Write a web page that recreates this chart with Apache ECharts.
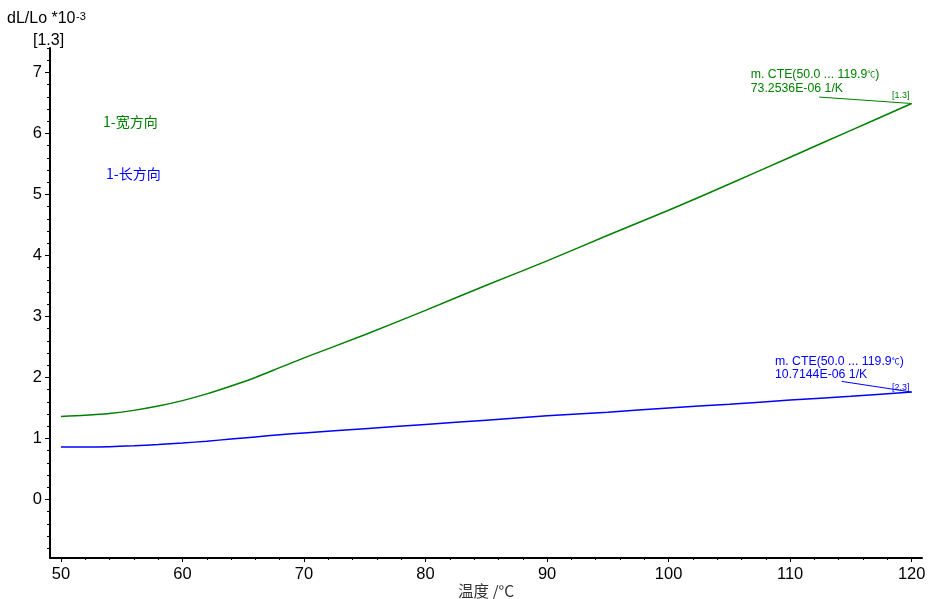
<!DOCTYPE html>
<html><head><meta charset="utf-8">
<script src="https://cdn.jsdelivr.net/npm/echarts@6/dist/echarts.min.js"></script>
<style>html,body{margin:0;padding:0;background:#fff}#c{width:932px;height:599px}</style>
</head><body><div id="c"></div>
<script>
// ---- data ----
const temps    = [50, 52, 54, 56, 58, 60, 62, 64, 66, 68, 70, 75, 80, 85, 90, 95, 100, 105, 110, 115, 120];
const wideDir  = [1.36, 1.38, 1.41, 1.46, 1.53, 1.62, 1.73, 1.86, 2.00, 2.16, 2.32, 2.70, 3.10, 3.51, 3.91, 4.33, 4.74, 5.17, 5.61, 6.05, 6.49];
const longDir  = [0.86, 0.86, 0.865, 0.88, 0.90, 0.925, 0.955, 0.99, 1.025, 1.06, 1.09, 1.16, 1.23, 1.30, 1.37, 1.43, 1.50, 1.56, 1.63, 1.69, 1.76];
const seriesNames = ['1-宽方向', '1-长方向'];
const xTickLabels = [50, 60, 70, 80, 90, 100, 110, 120];
const yTickLabels = [0, 1, 2, 3, 4, 5, 6, 7];
const cteTitle = ['m. CTE(50.0 ... 119.9', 'm. CTE(50.0 ... 119.9'];
const cteValue = ['73.2536E-06 1/K', '10.7144E-06 1/K'];
const cteTag = ['[1.3]', '[2.3]'];
const cteAnchor = [[112.39, 6.596], [114.24, 1.935]];
const yTitle = 'dL/Lo *10';
const yTitleExp = '-3';
const yTitleTag = '[1.3]';
const xTitle = '温度 /°C';

// ---- layout ----
const W = 932, H = 599;
const XMIN = 49.1, XMAX = 120.85, YMIN = -0.96, YMAX = 7.4;
const GL = 50, GT = 48, GR = 10, GB = 41;
const gw = W - GL - GR, gh = H - GT - GB;
const px = v => GL + (v - XMIN) / (XMAX - XMIN) * gw;
const py = v => GT + (YMAX - v) / (YMAX - YMIN) * gh;
const GREEN = '#008000', BLUE = '#0000ff';
const FONT = "'Liberation Sans', Arial, 'Noto Sans CJK SC', sans-serif";
const CJK = "'Noto Sans CJK SC', 'Liberation Sans', sans-serif";

const chart = echarts.init(document.getElementById('c'), null, {renderer: 'canvas'});

function mkSeries(name, vals, color, idx) {
  const n = temps.length - 1;
  return {
    name, type: 'line', xAxisIndex: 0, yAxisIndex: 0,
    data: temps.map((t, i) => [t, vals[i]]),
    showSymbol: false, smooth: 0.3,
    lineStyle: {color, width: 1.5}, itemStyle: {color},
    markLine: {
      silent: true, symbol: ['none', 'none'], animation: false,
      label: {show: false},
      lineStyle: {color, width: 1, type: 'solid'},
      data: [[{coord: cteAnchor[idx]}, {coord: [temps[n], vals[n]]}]]
    }
  };
}

function annot(x, y, title, value, color) {
  return [
    {type: 'text', left: x, top: y, style: {
      text: '{a|' + title + '}{s|℃}{a|)}', fill: color,
      rich: {a: {fontSize: 12.3, fontFamily: FONT, fill: color}, s: {fontSize: 8, fontFamily: FONT, fill: color}}
    }},
    {type: 'text', left: x, top: y + 13.5, style: {text: value, fill: color, font: '12.3px ' + FONT}},
  ];
}

const gridBase = {outerBoundsMode: 'none', containLabel: false};

const option = {
  animation: false,
  backgroundColor: '#fff',
  grid: [
    Object.assign({left: GL, top: GT, right: GR, bottom: GB}, gridBase),
    Object.assign({left: px(50), right: W - px(120), top: py(7), bottom: H - py(0)}, gridBase),
    Object.assign({left: GL, right: GR, top: py(7.4), bottom: H - py(-0.8)}, gridBase)
  ],
  xAxis: [
    {gridIndex: 0, type: 'value', min: XMIN, max: XMAX,
      axisLine: {show: true, onZero: false, lineStyle: {color: '#000', width: 2}},
      axisTick: {show: false}, axisLabel: {show: false}, splitLine: {show: false},
      name: xTitle, nameLocation: 'middle', nameGap: 25,
      nameTextStyle: {fontSize: 15.5, color: '#333', fontFamily: CJK}},
    {gridIndex: 1, type: 'value', min: xTickLabels[0], max: xTickLabels[xTickLabels.length - 1], interval: 10,
      offset: (H - GB) - py(0),
      axisLine: {show: false, onZero: false},
      axisTick: {show: true, length: 4, lineStyle: {color: '#000', width: 1}},
      minorTick: {show: true, splitNumber: 5, length: 2, lineStyle: {color: '#000', width: 1}},
      axisLabel: {show: true, fontSize: 16.5, color: '#000', fontFamily: FONT, margin: 8},
      splitLine: {show: false}},
    {gridIndex: 2, type: 'value', min: 0, max: 1, show: false, axisLine: {onZero: false}}
  ],
  yAxis: [
    {gridIndex: 0, type: 'value', min: YMIN, max: YMAX,
      axisLine: {show: true, onZero: false, lineStyle: {color: '#000', width: 2}},
      axisTick: {show: false}, axisLabel: {show: false}, splitLine: {show: false}},
    {gridIndex: 1, type: 'value', min: yTickLabels[0], max: yTickLabels[yTickLabels.length - 1], interval: 1,
      offset: px(50) - GL,
      axisLine: {show: false, onZero: false},
      axisTick: {show: true, length: 5, lineStyle: {color: '#000', width: 1}},
      axisLabel: {show: true, fontSize: 16.5, color: '#000', fontFamily: FONT, margin: 8},
      splitLine: {show: false}},
    {gridIndex: 2, type: 'value', min: -0.8, max: 7.4, interval: 0.2,
      axisLine: {show: false, onZero: false},
      axisTick: {show: true, length: 3, lineStyle: {color: '#000', width: 1}},
      axisLabel: {show: false}, splitLine: {show: false}}
  ],
  series: [
    mkSeries(seriesNames[0], wideDir, GREEN, 0),
    mkSeries(seriesNames[1], longDir, BLUE, 1)
  ],
  graphic: [
    {type: 'text', left: 7, top: 11, style: {text: yTitle, fill: '#000', font: '16px ' + FONT}},
    {type: 'text', left: 76, top: 11, style: {text: yTitleExp, fill: '#000', font: '11px ' + FONT}},
    {type: 'text', left: 33, top: 33, style: {text: yTitleTag, fill: '#000', font: '16px ' + FONT}},
    {type: 'text', left: 103, top: 114.5, style: {text: seriesNames[0], fill: GREEN, font: '14px ' + CJK}},
    {type: 'text', left: 106, top: 166.5, style: {text: seriesNames[1], fill: BLUE, font: '14px ' + CJK}},
    ...annot(750.7, 68.5, cteTitle[0], cteValue[0], GREEN),
    ...annot(775, 355.3, cteTitle[1], cteValue[1], BLUE),
    {type: 'text', left: 892, top: 91.5, style: {text: cteTag[0], fill: GREEN, font: '9px ' + FONT}},
    {type: 'text', left: 892, top: 383, style: {text: cteTag[1], fill: BLUE, font: '9px ' + FONT}}
  ]
};
chart.setOption(option);
</script>
</body></html>
